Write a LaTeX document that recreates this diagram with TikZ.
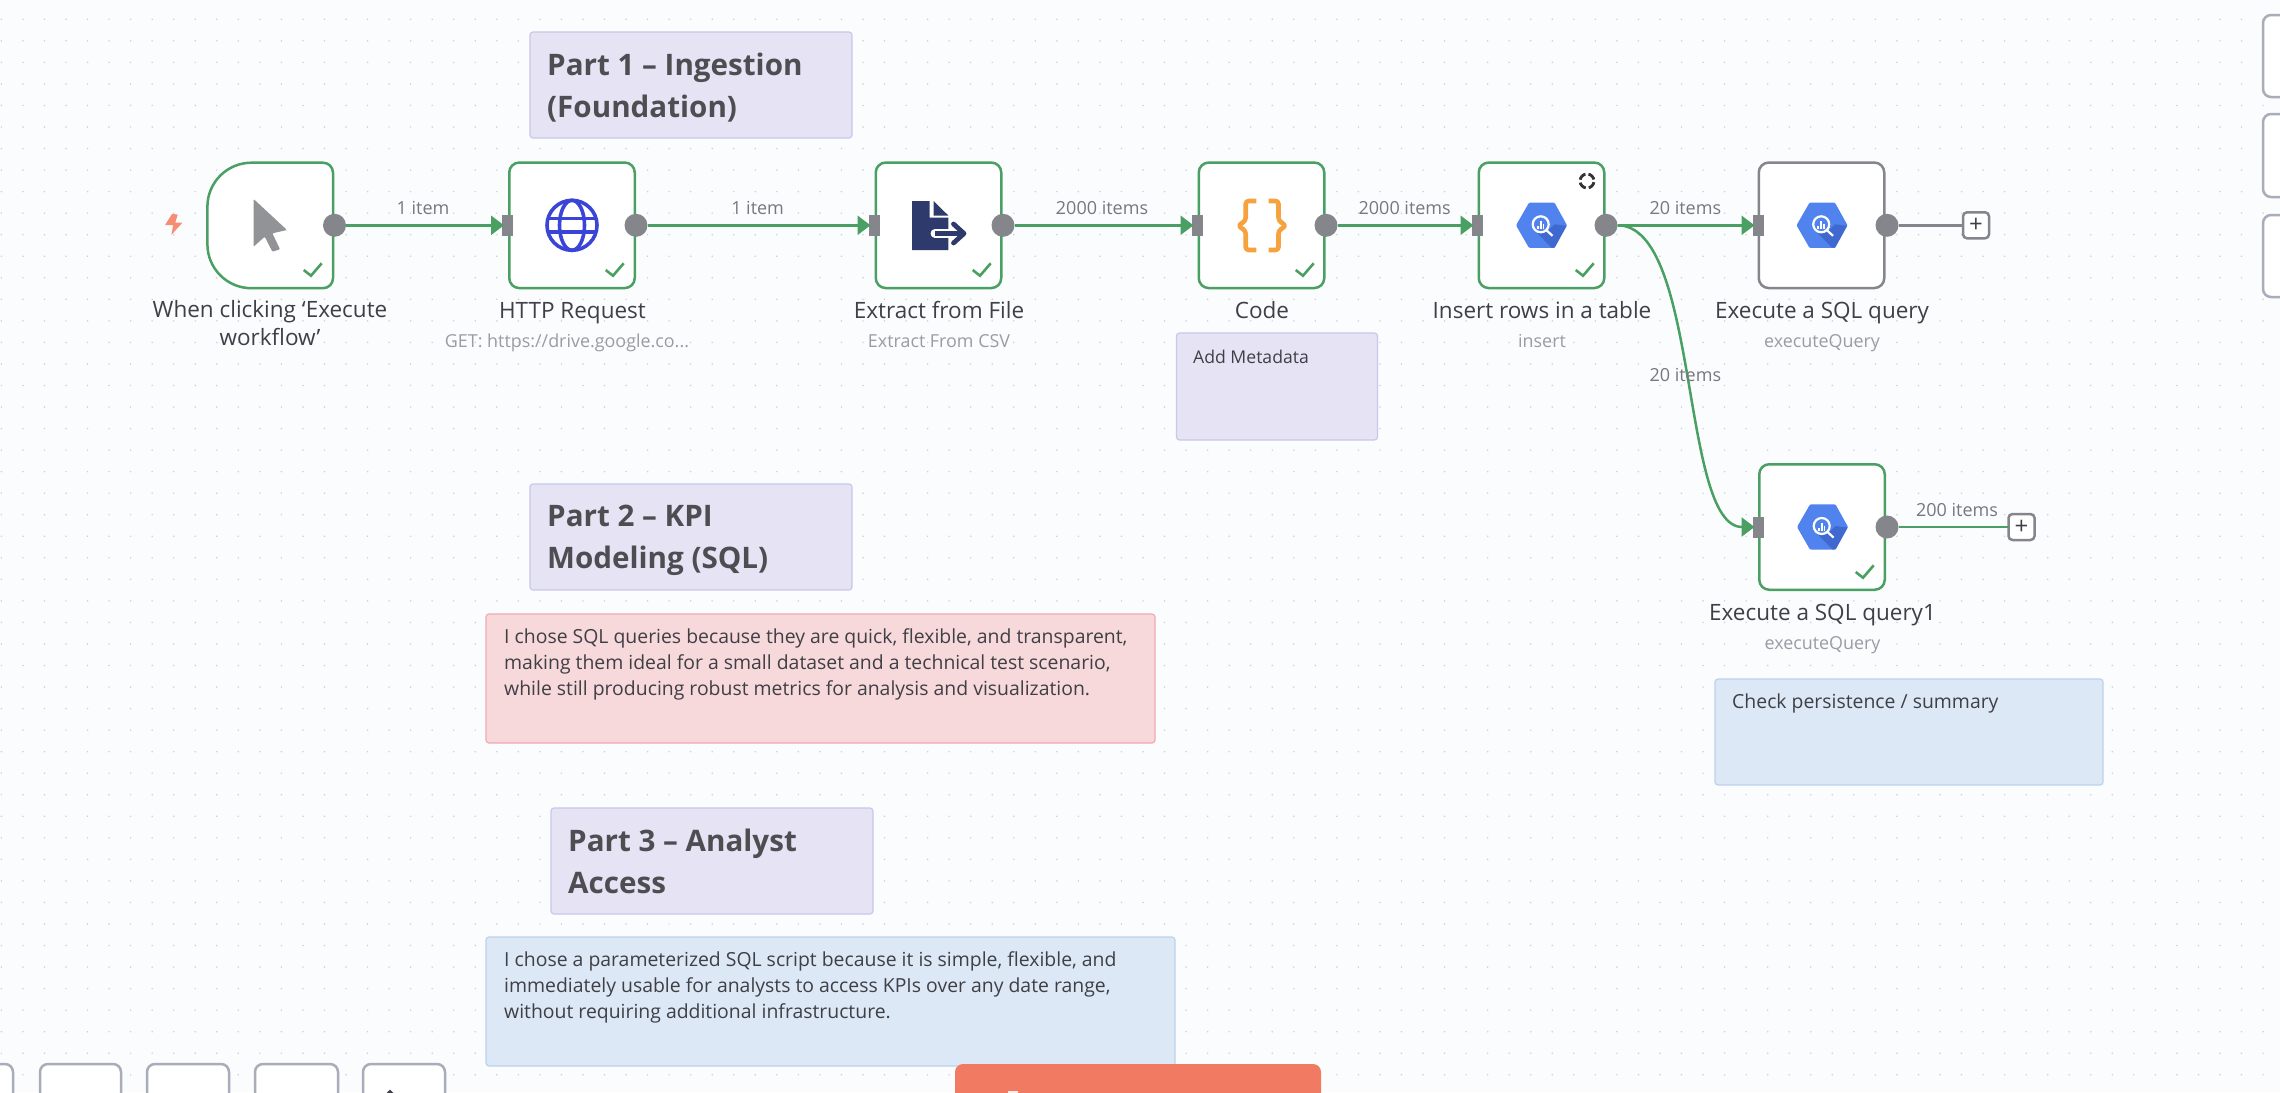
\documentclass[tikz,border=0pt]{standalone}
\usepackage{fontspec}
\setmainfont{Open Sans}
\usetikzlibrary{arrows.meta}
\definecolor{bgc}{HTML}{FBFCFE}
\definecolor{dotc}{HTML}{CDCFD4}
\definecolor{okgreen}{HTML}{4A9F63}
\definecolor{portgray}{HTML}{85868B}
\definecolor{framegray}{HTML}{A9ACB9}
\definecolor{labelc}{HTML}{3F3F46}
\definecolor{subc}{HTML}{9A9CA3}
\definecolor{edgec}{HTML}{77787E}
\definecolor{headc}{HTML}{4E4E52}
\definecolor{purfill}{HTML}{E6E3F4}
\definecolor{purline}{HTML}{C9C7EC}
\definecolor{redfill}{HTML}{F7D9DC}
\definecolor{redline}{HTML}{F0AAB0}
\definecolor{blufill}{HTML}{DDE8F6}
\definecolor{bluline}{HTML}{BCD2EC}
\definecolor{cta}{HTML}{F07A62}
\definecolor{bqblue}{HTML}{5083EE}
\definecolor{bqdark}{HTML}{4069D0}
\definecolor{globec}{HTML}{3A45D8}
\definecolor{navy}{HTML}{2E3A6B}
\definecolor{bracec}{HTML}{F6A23E}
\definecolor{cursorc}{HTML}{929397}
\definecolor{boltc}{HTML}{F58E75}
\tikzset{
  wfbox/.style={draw=okgreen,fill=white,line width=2.5pt,rounded corners=10pt,minimum width=125.5pt,minimum height=125.5pt,inner sep=0pt,outer sep=0pt},
  graybox/.style={wfbox,draw=portgray},
  portout/.style={circle,fill=portgray,minimum size=23pt,inner sep=0pt,outer sep=0pt},
  portin/.style={rectangle,fill=portgray,minimum width=11pt,minimum height=21pt,inner sep=0pt,outer sep=0pt},
  edgeline/.style={draw=okgreen,line width=2.5pt,-{Triangle[length=13pt,width=19pt]},shorten >=-2pt},
  tailline/.style={line width=2.5pt},
  nlabel/.style={anchor=base,inner sep=0pt,text=labelc,font=\fontsize{22.5}{28}\selectfont},
  nsub/.style={anchor=base,inner sep=0pt,text=subc,font=\fontsize{17.9}{22}\selectfont},
  elabel/.style={anchor=base,inner sep=0pt,text=edgec,font=\fontsize{18}{22}\selectfont},
  plusbox/.style={draw=portgray,fill=white,line width=2.5pt,rounded corners=4pt,minimum size=26pt,inner sep=0pt,outer sep=0pt,text=labelc,font=\fontsize{24}{24}\selectfont},
  sticky/.style={rounded corners=3pt,line width=1.2pt,anchor=north west,inner sep=0pt,outer sep=0pt},
  purnote/.style={sticky,fill=purfill,draw=purline},
  rednote/.style={sticky,fill=redfill,draw=redline},
  blunote/.style={sticky,fill=blufill,draw=bluline},
  headtext/.style={anchor=north west,inner sep=0pt,align=left,text=headc,font=\fontsize{29.6}{42}\selectfont\bfseries},
  notetext/.style={anchor=north west,inner sep=0pt,align=left,text=labelc,font=\fontsize{19.4}{26.4}\selectfont},
  okmark/.style={draw=okgreen,line width=2.6pt},
  framebox/.style={draw=framegray,fill=white,line width=2.5pt,rounded corners=8pt},
  griddots/.style={draw=dotc,line width=1.7pt,line cap=round,dash pattern=on 0pt off 21.54pt},
  bq/.pic={
    \fill[bqblue,rounded corners=1pt] (-25.5,0)--(-12.5,-22.6)--(13,-22.6)--(25.5,0)--(13,22.6)--(-12.5,22.6)--cycle;
    \fill[bqdark] (6,6)--(13,-1)--(25,0.5)--(13,22.4)--(10,22.4)--(-6,6)--cycle;
    \draw[white,line width=2.2pt] (-0.8,-1) circle (8pt);
    \draw[white,line width=2.2pt] (5,5)--(11,10.5);
    \fill[white] (-4.6,0.5) rectangle (-3,3.5);
    \fill[white] (-1.6,-4) rectangle (0,3.5);
    \fill[white] (1.3,-1.5) rectangle (2.9,3.5);
  }
}
\begin{document}
\begin{tikzpicture}[x=1pt,y=-1pt]
\useasboundingbox (0,0) rectangle (2280,1092);
\clip (0,0) rectangle (2280,1092);
\fill[bgc] (0,0) rectangle (2280,1092);
% dot grid
\foreach \j in {0,...,50} { \draw[griddots] (1.38,{19.3+\j*21.54}) -- (2280,{19.3+\j*21.54}); }

% frames at the window edges
\draw[framebox] (2263,15) rectangle (2320,97);
\draw[framebox] (2263,114) rectangle (2320,197);
\draw[framebox] (2263,215) rectangle (2320,297);
\draw[framebox] (-60,1064) rectangle (13,1120);
\draw[framebox] (40,1064) rectangle (121,1120);
\draw[framebox] (147,1064) rectangle (229,1120);
\draw[framebox] (255,1064) rectangle (338,1120);
\draw[framebox] (363,1064) rectangle (445,1120);
\fill[labelc] (390,1089.5) -- (393.5,1093) -- (386.5,1093) -- cycle;

% sticky notes
\node[purnote,minimum width=322pt,minimum height=106pt] (note1) at (530,32) {};
\node[headtext] (head1) at (547,53) {Part 1 – Ingestion\\(Foundation)};
\node[purnote,minimum width=201pt,minimum height=107pt] (note4) at (1176.5,333) {};
\node[notetext,font=\fontsize{17.6}{26}\selectfont] (meta) at (1193,350) {Add Metadata};
\node[purnote,minimum width=322pt,minimum height=106pt] (note2) at (530,484) {};
\node[headtext] (head2) at (547,505) {Part 2 – KPI\\Modeling (SQL)};
\node[rednote,minimum width=669pt,minimum height=129pt] (note5) at (486,614) {};
\node[notetext] (txt5) at (504,628) {I chose SQL queries because they are quick, flexible, and transparent,\\making them ideal for a small dataset and a technical test scenario,\\while still producing robust metrics for analysis and visualization.};
\node[purnote,minimum width=322pt,minimum height=106pt] (note3) at (551,808) {};
\node[headtext] (head3) at (568,829) {Part 3 – Analyst\\Access};
\node[blunote,minimum width=689pt,minimum height=129pt] (note6) at (486,937) {};
\node[notetext] (txt6) at (504,951) {I chose a parameterized SQL script because it is simple, flexible, and\\immediately usable for analysts to access KPIs over any date range,\\without requiring additional infrastructure.};
\node[blunote,minimum width=388pt,minimum height=106pt] (note7) at (1715,679) {};
\node[notetext] (txt7) at (1732,694) {Check persistence / summary};
\fill[cta,rounded corners=8pt] (955,1064) rectangle (1321,1120);
\fill[white!88!cta] (1008,1091) rectangle (1018,1093);

% trigger
\node[minimum size=127pt,inner sep=0pt] (trig) at (270.25,225.3) {};
\draw[draw=okgreen,fill=white,line width=2.5pt] (270,162.7) [rounded corners=44pt] -- (207.4,162.7) -- (207.4,288.2) [rounded corners=10pt] -- (333,288.2) -- (333,162.7) -- cycle;
\fill[boltc,rounded corners=0.6pt] (172,214)--(165,225)--(173.2,225)--(171.3,235)--(182.4,222.7)--(175.2,222.7)--(177.8,214.5)--cycle;
\fill[cursorc,rounded corners=1pt] (253.6,199)--(287,230)--(272.4,233.3)--(280,249.3)--(272.4,251.7)--(264.7,236.7)--(253.6,246.7)--cycle;

% workflow boxes
\node[wfbox] (http) at (572,225.3) {};
\node[wfbox] (extract) at (938.5,225.3) {};
\node[wfbox] (code) at (1261.5,225.3) {};
\node[wfbox] (insert) at (1541.5,225.3) {};
\node[graybox] (sqla) at (1821.5,225.3) {};
\node[wfbox] (sqlb) at (1822,527) {};

% icons
\draw[globec,line width=3.6pt] (572,225.3) circle (25pt);
\draw[globec,line width=3.6pt] (572,225.3) ellipse (12.5pt and 25pt);
\draw[globec,line width=3.6pt] (549,218.5) -- (595,218.5) (549,232) -- (595,232);

\fill[navy] (912,201)--(929.5,201)--(929.5,217.5)--(948.3,217.5)--(948.3,250)--(912,250)--cycle;
\fill[navy] (933.5,201)--(948.3,215.5)--(933.5,215.5)--cycle;
\draw[white,line width=9pt,line cap=round] (935,233.5)--(952,233.5);
\draw[white,line width=9pt] (952,233.5)--(964,233.5);
\draw[navy,line width=4.8pt] (935,233.5)--(963,233.5);
\draw[navy,line width=4.8pt,line cap=round,line join=round] (953.5,224)--(964,233.5)--(953.5,243);

\draw[bracec,line width=4.6pt,line join=round,rounded corners=3pt] (1256.4,201)--(1245.7,201)--(1245.7,220.5)--(1238,225.7)--(1245.7,230.9)--(1245.7,250)--(1256.4,250);
\draw[bracec,line width=4.6pt,line join=round,rounded corners=3pt] (1268.6,201)--(1278.5,201)--(1278.5,220.5)--(1286,225.7)--(1278.5,230.9)--(1278.5,250)--(1268.6,250);

\pic at (1541.5,225.3) {bq};
\pic at (1822,225.3) {bq};
\pic at (1822.5,527) {bq};
\draw[black!80,line width=2.8pt,dash pattern=on 8pt off 3pt,dash phase=9.5pt] (1587,181) circle (7pt);

% check marks
\foreach \cx/\cy in {334/289,636/289,1003/289,1326/289,1606/289,1886/591} {
  \draw[okmark] (\cx-30.3,\cy-19)--(\cx-23,\cy-13.3)--(\cx-12.3,\cy-25.7);
}

% ports
\node[portout] (o1) at (334.5,225.3) {};
\node[portin] (i2) at (507.5,225.3) {};
\node[portout] (o2) at (636,225.3) {};
\node[portin] (i3) at (874,225.3) {};
\node[portout] (o3) at (1003,225.3) {};
\node[portin] (i4) at (1197,225.3) {};
\node[portout] (o4) at (1326,225.3) {};
\node[portin] (i5) at (1477,225.3) {};
\node[portout] (o5) at (1606,225.3) {};
\node[portin] (i6) at (1758,225.3) {};
\node[portout] (o6) at (1887,225.3) {};
\node[portin] (i7) at (1758,527) {};
\node[portout] (o7) at (1887,527) {};
\node[plusbox] (plus1) at (1976,225.3) {+};
\node[plusbox] (plus2) at (2021.5,527) {+};

% connectors
\draw[edgeline] (o1) -- (i2);
\draw[edgeline] (o2) -- (i3);
\draw[edgeline] (o3) -- (i4);
\draw[edgeline] (o4) -- (i5);
\draw[edgeline] (o5) -- (i6);
\draw[edgeline] (o5.east) .. controls (1700,225.3) and (1680,527) .. (i7.west);
\draw[tailline,draw=portgray] (o6) -- (plus1);
\draw[tailline,draw=okgreen] (o7) -- (plus2);

% labels
\node[nlabel,align=center,anchor=north] (l1) at (270,300) {When clicking ‘Execute\\workflow’};
\node[nlabel] (l2) at (572.5,318.3) {HTTP Request};
\node[nsub] (s2) at (567,347.3) {GET: https://drive.google.co...};
\node[nlabel] (l3) at (939,318.3) {Extract from File};
\node[nsub] (s3) at (939,347.3) {Extract From CSV};
\node[nlabel] (l4) at (1262,318.3) {Code};
\node[nlabel] (l5) at (1542,318.3) {Insert rows in a table};
\node[nsub] (s5) at (1542,347.3) {insert};
\node[nlabel] (l6) at (1822,318.3) {Execute a SQL query};
\node[nsub] (s6) at (1822,347.3) {executeQuery};
\node[nlabel] (l7) at (1822.5,620) {Execute a SQL query1};
\node[nsub] (s7) at (1822.5,649) {executeQuery};

\node[elabel] (e1) at (423,214) {1 item};
\node[elabel] (e2) at (757.6,214) {1 item};
\node[elabel] (e3) at (1102,214) {2000 items};
\node[elabel] (e4) at (1404.7,214) {2000 items};
\node[elabel] (e5) at (1685.3,214) {20 items};
\node[elabel] (e6) at (1685.3,381) {20 items};
\node[elabel] (e7) at (1957,516) {200 items};
\end{tikzpicture}
\end{document}
